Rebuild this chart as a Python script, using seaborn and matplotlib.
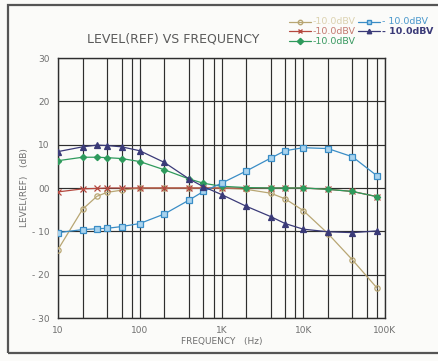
import matplotlib
matplotlib.use("Agg")
import matplotlib.pyplot as plt
from matplotlib.patches import Rectangle
from matplotlib.lines import Line2D
import pandas as pd
import seaborn as sns

# Measurement frequencies (Hz)
freq = [10, 20, 30, 40, 60, 100, 200, 400, 600, 1000, 2000, 4000, 6000,
        10000, 20000, 40000, 80000]

# Relative level (dB) for each trace
level_tan = [-14.2, -4.9, -1.9, -1.0, -0.5, 0.0, 0.0, 0.0, 0.0, 0.0, -0.3,
             -1.2, -2.5, -5.2, -10.5, -16.6, -23.1]
level_red = [-0.9, -0.2, -0.1, 0.0, 0.0, 0.0, 0.0, 0.0, 0.0, 0.0, 0.0,
             0.0, 0.0, 0.0, -0.3, -0.8, -2.0]
level_green = [6.3, 7.1, 7.1, 7.0, 6.8, 6.1, 4.2, 2.1, 1.1, 0.4, 0.1,
               0.0, 0.0, 0.0, -0.3, -0.8, -2.0]
level_blue = [-10.3, -9.6, -9.4, -9.3, -8.9, -8.2, -6.0, -2.8, -0.8, 1.1,
              3.9, 6.9, 8.6, 9.3, 9.1, 7.2, 2.8]
level_navy = [8.4, 9.5, 9.9, 9.8, 9.5, 8.6, 5.9, 2.1, 0.3, -1.5, -4.2,
              -6.6, -8.2, -9.5, -10.1, -10.3, -9.9]

trace_labels = ["-10.0dBV", "-10.0dBV", "-10.0dBV", "- 10.0dBV", "- 10.0dBV"]

y_ticks = [-30, -20, -10, 0, 10, 20, 30]
y_tick_labels = ["- 30", "- 20", "- 10", "00", "10", "20", "30"]
x_ticks = [10, 100, 1000, 10000, 100000]
x_tick_labels = ["10", "100", "1K", "10K", "100K"]

sns.set_theme(style="white")
plt.rcParams["font.family"] = ["DejaVu Sans"]

W, H = 438, 361
fig = plt.figure(figsize=(W / 100, H / 100), dpi=100)
fig.patch.set_facecolor("#fbfbf9")
ax = fig.add_axes([58 / W, 1 - 318 / H, 327 / W, 260 / H])
ax.set_facecolor("#fbfbf9")

# outer frame (its right edge runs past the page)
fig.patches.append(Rectangle((8 / W, 1 - 353 / H), 440 / W, 348 / H,
                             transform=fig.transFigure, fill=False,
                             edgecolor="#555555", linewidth=1.6))

# (values, line colour, marker, marker face, legend text colour)
styles = [
    (level_tan, "#b8a673", "o", "none", "#dcd2b0"),
    (level_red, "#b5483f", "x", "#b5483f", "#c47a70"),
    (level_green, "#2e9a5c", "D", "#2e9a5c", "#3a9a62"),
    (level_blue, "#3a8dc6", "s", "#a9d3ee", "#4a98cc"),
    (level_navy, "#3a3a78", "^", "#3a3a78", "#3a3a78"),
]

for vals, col, mk, mfc, tcol in styles:
    df = pd.DataFrame({"freq": freq, "level": vals})
    sns.lineplot(data=df, x="freq", y="level", ax=ax, color=col,
                 linewidth=0.9, marker=mk,
                 markersize=3.8 if mk != "D" else 3.2,
                 markerfacecolor=mfc, markeredgecolor=col,
                 markeredgewidth=0.9, zorder=3)

ax.set_xscale("log")
ax.set_xlim(10, 100000)
ax.set_ylim(-30, 30)

minor = []
for dec in [10, 100, 1000, 10000]:
    minor += [2 * dec, 4 * dec, 6 * dec, 8 * dec]
ax.set_xticks(x_ticks)
ax.set_xticks(minor, minor=True)
ax.set_xticklabels(x_tick_labels)
ax.set_yticks(y_ticks)
ax.set_yticklabels(y_tick_labels)
ax.tick_params(axis="both", which="both", length=0, labelsize=6.5,
               labelcolor="#707070", pad=6)
ax.grid(True, which="both", color="#2e2e2e", linewidth=0.85)
for s in ax.spines.values():
    s.set_color("#2e2e2e")
    s.set_linewidth(1.0)

ax.set_xlabel("FREQUENCY   (Hz)", fontsize=6.5, color="#707070", labelpad=1)
ax.set_ylabel("LEVEL(REF)   (dB)", fontsize=6.5, color="#707070", labelpad=2)

fig.text(173 / W, 1 - 39 / H, "LEVEL(REF) VS FREQUENCY", ha="center",
         va="center", fontsize=9, color="#5a5a5a")

# legend entries, laid out in two columns
leg_pos = [(289, 22), (289, 31), (289, 41), (358, 22), (358, 31)]
for (px, py), (vals, col, mk, mfc, tcol), lab in zip(leg_pos, styles, trace_labels):
    x0 = px / W
    y0 = 1 - py / H
    fig.add_artist(Line2D([x0, x0 + 22 / W], [y0, y0], color=col,
                          linewidth=0.9, transform=fig.transFigure))
    fig.add_artist(Line2D([x0 + 11 / W], [y0], color=col, marker=mk,
                          markersize=3.2, markerfacecolor=mfc,
                          markeredgecolor=col, transform=fig.transFigure))
    fig.text(x0 + 24 / W, y0, lab, ha="left", va="center", fontsize=6.8,
             color=tcol, fontweight="semibold" if col == "#3a3a78" else "normal")

fig.savefig("out.png", dpi=100, facecolor=fig.get_facecolor())
